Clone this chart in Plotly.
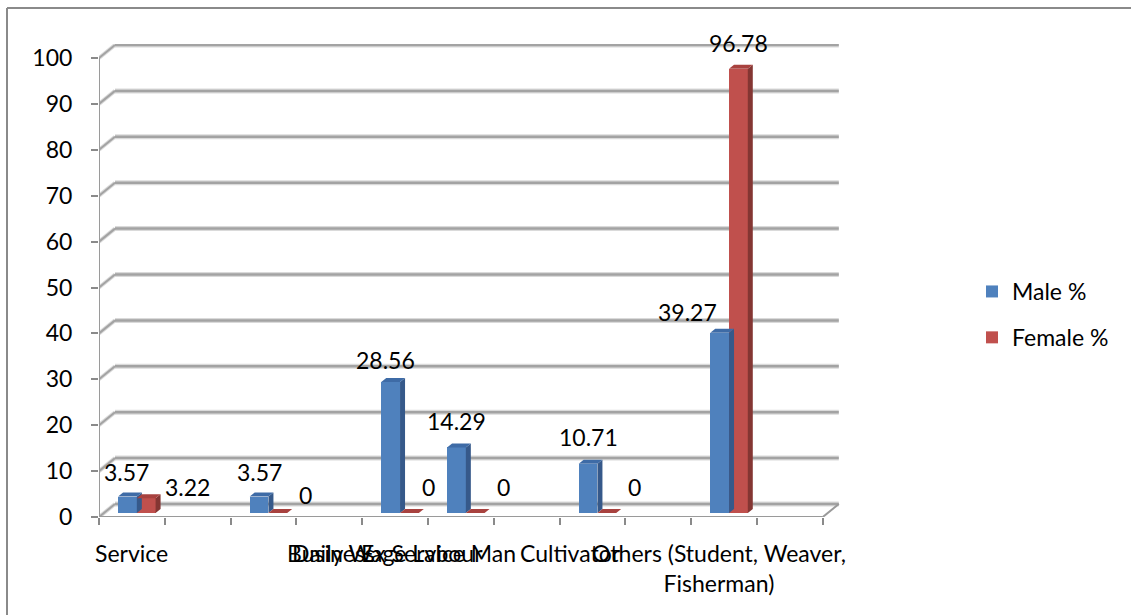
import plotly.graph_objects as go

# ---- data ----
categories = ["Service", "Business", "Daily Wage Labour", "Ex Service Man",
              "Cultivator", "Others (Student, Weaver,<br>Fisherman)"]
male_pct = [3.57, 3.57, 28.56, 14.29, 10.71, 39.27]
female_pct = [3.22, 0, 0, 0, 0, 96.78]
y_ticks = [0, 10, 20, 30, 40, 50, 60, 70, 80, 90, 100]

# ---- layout constants (pixels) ----
W, H = 1131, 615
L, T = 99, 44
PLOT_W, PLOT_H = 741, 473
SLOT_PX = 65.8          # width of one category slot
Y_PX = 4.59             # pixels per percentage point
N_SLOTS = 11
slots = [0, 2, 4, 5, 7, 9]      # slot each category sits in

x_max = PLOT_W / SLOT_PX
y_max = PLOT_H / Y_PX
DX = 16 / SLOT_PX       # depth of the floor / walls
DY = 13 / Y_PX
LIFT = 4 / Y_PX         # bars sit a little behind the front edge
BDX = 5 / SLOT_PX       # depth of each bar
BDY = 4 / Y_PX
BAR_W = 0.285
OFF_M, OFF_F = 0.29, 0.575

BLUE, BLUE_SIDE, BLUE_TOP = "#4F81BD", "#36598A", "#3E6BA6"
RED, RED_SIDE, RED_TOP = "#C0504D", "#843633", "#A8423F"
GRID = "#A3A3A3"
GRID_SOFT = "#DADADA"
FONT = "Lato"
FS = 23

fig = go.Figure()


def add_series(vals, off, col, side_col, top_col, name):
    xs = [s + off for s in slots]
    fig.add_trace(go.Bar(
        x=xs, y=vals, base=[LIFT] * len(vals), width=BAR_W, offset=0,
        marker=dict(color=col, line=dict(width=0)), name=name,
        legendgroup=name, showlegend=True))
    # side and top faces of each column
    for x0, v in zip(xs, vals):
        x1 = x0 + BAR_W
        top = v + LIFT
        fig.add_trace(go.Scatter(
            x=[x1, x1 + BDX, x1 + BDX, x1, x1],
            y=[LIFT, LIFT + BDY, top + BDY, top, LIFT],
            fill="toself", fillcolor=side_col, mode="lines",
            line=dict(width=0), hoverinfo="skip", showlegend=False))
        fig.add_trace(go.Scatter(
            x=[x0, x1, x1 + BDX, x0 + BDX, x0],
            y=[top, top, top + BDY, top + BDY, top],
            fill="toself", fillcolor=top_col, mode="lines",
            line=dict(width=0), hoverinfo="skip", showlegend=False))


add_series(male_pct, OFF_M, BLUE, BLUE_SIDE, BLUE_TOP, "Male %")
add_series(female_pct, OFF_F, RED, RED_SIDE, RED_TOP, "Female %")

shapes = []


def seg(x0, y0, x1, y1, color=GRID, width=2.5):
    shapes.append(dict(type="line", xref="x", yref="y", x0=x0, y0=y0,
                       x1=x1, y1=y1, line=dict(color=color, width=width),
                       layer="below"))


# back wall grid and left-wall diagonals
for v in y_ticks:
    seg(DX, v + DY, N_SLOTS + DX, v + DY, GRID_SOFT, 5)
    seg(0, v, DX, v + DY, GRID_SOFT, 4)
for v in y_ticks:
    seg(DX, v + DY, N_SLOTS + DX, v + DY, GRID, 2.5)
    seg(0, v, DX, v + DY, GRID, 2)
# floor edges and front axis
seg(0, 0, N_SLOTS, 0, "#9A9A9A", 2)
seg(N_SLOTS, 0, N_SLOTS + DX, DY, "#9A9A9A", 2)
seg(0, 0, 0, 100, "#9A9A9A", 2)

# chart border (left and top edges)
px_x = lambda p: (p - L) / PLOT_W
px_y = lambda p: 1 - (p - T) / PLOT_H
shapes.append(dict(type="line", xref="paper", yref="paper",
                   x0=px_x(7), y0=px_y(8), x1=px_x(W + 5), y1=px_y(8),
                   line=dict(color="#8A8A8A", width=2)))
shapes.append(dict(type="line", xref="paper", yref="paper",
                   x0=px_x(7), y0=px_y(8), x1=px_x(7), y1=px_y(H + 5),
                   line=dict(color="#8A8A8A", width=2)))

annotations = []
# value labels
male_shift = [(-1, 25), (0, 25), (-5, 22), (0, 26), (0, 27), (-32, 21)]
female_shift = [(41, 11), (28, 18), (19, 26), (28, 26), (28, 26), (0, 26)]
for vals, off, shifts in ((male_pct, OFF_M, male_shift),
                          (female_pct, OFF_F, female_shift)):
    for s, v, (sx, sy) in zip(slots, vals, shifts):
        annotations.append(dict(
            x=s + off + BAR_W / 2, y=v + LIFT, xref="x", yref="y",
            text=f"{v:g}", showarrow=False, xshift=sx, yshift=sy,
            font=dict(family=FONT, size=FS, color="black")))

# category labels (placed as Excel lays them, overlapping)
cat_pos = [(131, "center"), (285, "left"), (290, "left"), (518, "right"),
           (518, "left"), (719, "center")]
for name, (px, anchor) in zip(categories, cat_pos):
    annotations.append(dict(
        x=(px - L) / SLOT_PX, y=0, xref="x", yref="y", text=name,
        showarrow=False, xanchor=anchor, yanchor="top", yshift=-20,
        align="center", font=dict(family=FONT, size=FS, color="black")))

fig.update_layout(
    width=W, height=H, autosize=False,
    margin=dict(l=L, r=W - L - PLOT_W, t=T, b=H - T - PLOT_H, pad=0),
    paper_bgcolor="white", plot_bgcolor="white",
    barmode="overlay", bargap=0,
    font=dict(family=FONT, size=FS, color="black"),
    xaxis=dict(range=[0, x_max], showgrid=False, zeroline=False,
               tickvals=list(range(N_SLOTS + 1)), ticks="outside",
               ticklen=7, tickwidth=1.5, tickcolor="#8A8A8A",
               showticklabels=False, fixedrange=True),
    yaxis=dict(range=[0, y_max], showgrid=False, zeroline=False,
               tickvals=y_ticks, ticks="outside", ticklen=7,
               tickwidth=1.5, tickcolor="#8A8A8A",
               ticklabelstandoff=14,
               tickfont=dict(family=FONT, size=FS, color="black"),
               fixedrange=True),
    legend=dict(xref="container", yref="container", x=972 / W,
                y=1 - 270 / H, xanchor="left", yanchor="top",
                font=dict(family=FONT, size=FS, color="black"),
                tracegroupgap=13, itemwidth=30, bgcolor="rgba(0,0,0,0)"),
    shapes=shapes, annotations=annotations,
    showlegend=True,
)

fig.write_html("out.html")
